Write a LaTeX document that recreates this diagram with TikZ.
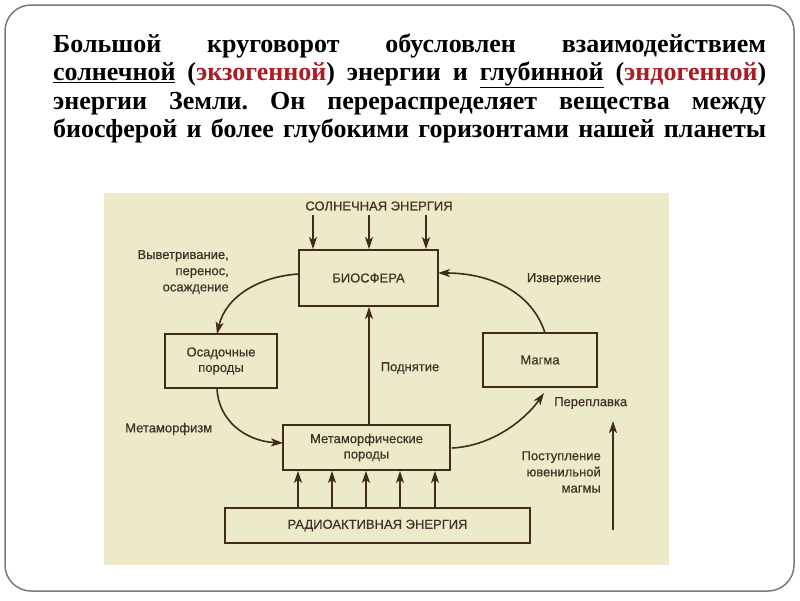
\documentclass[tikz,border=0pt]{standalone}
\usepackage{fontspec}
\setmainfont{Liberation Serif}
\newfontfamily\diagfont[FakeBold=0.5]{Liberation Sans}
\usetikzlibrary{arrows.meta}
\definecolor{beige}{RGB}{237,234,202}
\definecolor{ink}{RGB}{66,42,28}
\definecolor{txt}{RGB}{66,50,38}
\definecolor{redword}{RGB}{172,26,34}
\definecolor{frame}{RGB}{120,120,120}
\frenchspacing
\tikzset{
  box/.style={draw=ink, line width=1.9pt, fill=none, inner sep=0, align=center, text=txt, font=\diagfont\fontsize{13}{15.5}\selectfont},
  lbl/.style={inner sep=0, text=txt, font=\diagfont\fontsize{13}{16.2}\selectfont},
  arr/.style={draw=ink, line width=1.6pt, -{Stealth[length=12pt,width=8pt,inset=3pt]}},
  tline/.style={inner sep=0, anchor=base west, font=\bfseries\fontsize{26}{28.5}\selectfont}
}
\begin{document}
\begin{tikzpicture}[x=1pt,y=-1pt]
\useasboundingbox (0,0) rectangle (800,600);
\fill[white] (0,0) rectangle (800,600);
\draw[frame, line width=1.5pt, rounded corners=26pt] (5,5) rectangle (794,591);
% title
\node[tline] (t1) at (53,52) {\makebox[713pt][s]{Большой круговорот обусловлен взаимодействием}};
\node[tline] (t2) at (53,80.5) {\makebox[713pt][s]{\underline{солнечной} (\textcolor{redword}{экзогенной}) энергии и \underline{глубинной} (\textcolor{redword}{эндогенной})}};
\node[tline] (t3) at (53,109) {\makebox[713pt][s]{энергии Земли. Он перераспределяет вещества между}};
\node[tline] (t4) at (53,137.5) {\makebox[713pt][s]{биосферой и более глубокими горизонтами нашей планеты}};
% diagram background
\fill[beige] (104,193) rectangle (669,565);
% boxes
\node[box, minimum width=139pt, minimum height=56pt] (bio) at (368.5,278) {БИОСФЕРА};
\node[box, minimum width=112pt, minimum height=54pt] (osad) at (221,361) {Осадочные\\породы};
\node[box, minimum width=114pt, minimum height=54pt] (magma) at (540,360) {Магма};
\node[box, minimum width=167pt, minimum height=45pt] (meta) at (366.5,447.5) {Метаморфические\\породы};
\node[box, minimum width=305pt, minimum height=35pt] (radio) at (377.5,525.5) {РАДИОАКТИВНАЯ ЭНЕРГИЯ};
% labels
\node[lbl] (sun) at (379,206) {СОЛНЕЧНАЯ ЭНЕРГИЯ};
\node[lbl, anchor=east, align=right] (vyv) at (229,272) {Выветривание,\\перенос,\\осаждение};
\node[lbl] (izv) at (564,279) {Извержение};
\node[lbl] (podn) at (410,368) {Поднятие};
\node[lbl, anchor=west] (metam) at (125,429) {Метаморфизм};
\node[lbl, anchor=west] (perepl) at (554,403) {Переплавка};
\node[lbl, anchor=east, align=right] (post) at (601,472) {Поступление\\ювенильной\\магмы};
% sun arrows
\foreach \x in {313,369,426} {
  \coordinate (s\x) at (\x,215);
  \draw[arr] (s\x) -- (s\x |- bio.north);
}
% radioactive arrows
\foreach \x in {298,332,366,400,435} {
  \coordinate (r\x) at (\x,508);
  \draw[arr] (r\x |- radio.north) -- (r\x |- meta.south);
}
% uplift
\coordinate (ubot) at (369,425);
\draw[arr] (ubot |- meta.north) -- (ubot |- bio.south);
% curves
\coordinate (c1s) at (299,274);
\coordinate (c1e) at (217,334);
\draw[arr] (c1s) .. controls (262,276) and (226,295) .. (c1e);
\coordinate (c2s) at (217,388);
\coordinate (c2e) at (283,443);
\draw[arr] (c2s) .. controls (218,420) and (245,441) .. (c2e);
\coordinate (c3s) at (452,448);
\coordinate (c3e) at (544,393);
\draw[arr] (c3s) .. controls (492,446) and (525,420) .. (c3e);
\coordinate (c4s) at (545,333);
\coordinate (c4e) at (438,273);
\draw[arr] (c4s) .. controls (532,292) and (490,273) .. (c4e);
% juvenile magma arrow
\coordinate (j0) at (613,530);
\coordinate (j1) at (613,421);
\draw[arr] (j0) -- (j1);
\end{tikzpicture}
\end{document}
